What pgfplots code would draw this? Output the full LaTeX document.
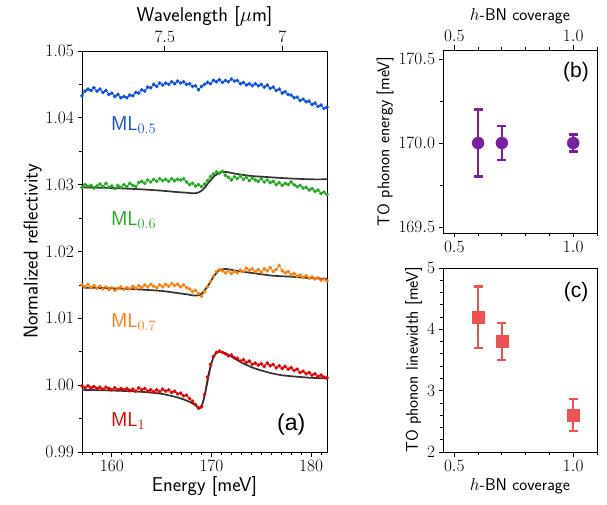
\documentclass[border=0pt]{standalone}
\usepackage{fontspec}
\usepackage{pgfplots}
\pgfplotsset{compat=1.18}
\usepackage{pgfplotstable}
\newfontfamily\helv{Liberation Sans}
\definecolor{cblue}{HTML}{0F4FE6}
\definecolor{cgreen}{HTML}{22AA22}
\definecolor{corange}{HTML}{FF7F0E}
\definecolor{cred}{HTML}{E60000}
\definecolor{cfit}{HTML}{333333}
\definecolor{cpurple}{HTML}{7B1FA2}
\definecolor{csalmon}{HTML}{F05252}

\pgfplotstableread{
E blue green orange red
157.0 1.0433 1.0296 1.0150 0.9999
157.3 1.0440 1.0300 1.0147 0.9996
157.6 1.0443 1.0297 1.0151 0.9999
157.9 1.0441 1.0299 1.0146 0.9996
158.2 1.0445 1.0295 1.0149 0.9998
158.5 1.0440 1.0298 1.0145 0.9995
158.8 1.0443 1.0301 1.0148 0.9997
159.1 1.0438 1.0297 1.0144 0.9994
159.4 1.0441 1.0302 1.0147 0.9997
159.7 1.0435 1.0296 1.0143 0.9995
160.0 1.0437 1.0298 1.0146 0.9993
160.3 1.0432 1.0294 1.0142 0.9996
160.6 1.0435 1.0299 1.0145 0.9993
160.9 1.0430 1.0296 1.0147 0.9995
161.2 1.0432 1.0300 1.0143 0.9993
161.5 1.0430 1.0297 1.0146 0.9995
161.8 1.0434 1.0302 1.0144 0.9992
162.1 1.0433 1.0299 1.0148 0.9994
162.4 1.0438 1.0297 1.0145 0.9991
162.7 1.0437 1.0303 1.0149 0.9996
163.0 1.0442 1.0305 1.0146 0.9993
163.3 1.0440 1.0302 1.0150 0.9995
163.6 1.0446 1.0307 1.0147 0.9991
163.9 1.0445 1.0304 1.0151 0.9993
164.2 1.0450 1.0308 1.0148 0.9990
164.5 1.0447 1.0305 1.0146 0.9993
164.8 1.0452 1.0309 1.0150 0.9990
165.1 1.0449 1.0306 1.0147 0.9994
165.4 1.0452 1.0308 1.0151 0.9991
165.7 1.0450 1.0305 1.0148 0.9993
166.0 1.0454 1.0309 1.0152 0.9989
166.3 1.0451 1.0306 1.0149 0.9991
166.6 1.0455 1.0308 1.0151 0.9987
166.9 1.0452 1.0307 1.0147 0.9988
167.2 1.0454 1.0309 1.0150 0.9984
167.5 1.0450 1.0304 1.0146 0.9985
167.8 1.0451 1.0300 1.0144 0.9980
168.1 1.0447 1.0302 1.0140 0.9976
168.4 1.0448 1.0298 1.0142 0.9971
168.7 1.0442 1.0300 1.0137 0.9966
169.0 1.0447 1.0297 1.0133 0.9968
169.3 1.0450 1.0301 1.0140 0.9986
169.6 1.0453 1.0306 1.0147 1.0012
169.9 1.0451 1.0312 1.0155 1.0031
170.2 1.0456 1.0316 1.0163 1.0043
170.5 1.0454 1.0319 1.0170 1.0049
170.8 1.0457 1.0317 1.0173 1.0051
171.1 1.0453 1.0320 1.0171 1.0049
171.4 1.0456 1.0314 1.0168 1.0047
171.7 1.0454 1.0311 1.0171 1.0044
172.0 1.0458 1.0307 1.0167 1.0045
172.3 1.0455 1.0312 1.0170 1.0041
172.6 1.0456 1.0309 1.0168 1.0040
172.9 1.0451 1.0313 1.0172 1.0036
173.2 1.0453 1.0308 1.0170 1.0038
173.5 1.0449 1.0311 1.0175 1.0034
173.8 1.0451 1.0306 1.0172 1.0036
174.1 1.0448 1.0310 1.0174 1.0031
174.4 1.0451 1.0307 1.0170 1.0033
174.7 1.0448 1.0305 1.0173 1.0030
175.0 1.0450 1.0309 1.0169 1.0032
175.3 1.0446 1.0304 1.0174 1.0028
175.6 1.0449 1.0307 1.0171 1.0033
175.9 1.0444 1.0303 1.0176 1.0029
176.2 1.0446 1.0305 1.0170 1.0031
176.5 1.0441 1.0300 1.0173 1.0026
176.8 1.0443 1.0303 1.0179 1.0029
177.1 1.0437 1.0299 1.0171 1.0025
177.4 1.0439 1.0302 1.0168 1.0028
177.7 1.0435 1.0300 1.0170 1.0024
178.0 1.0434 1.0304 1.0165 1.0026
178.3 1.0430 1.0300 1.0167 1.0022
178.6 1.0431 1.0297 1.0163 1.0024
178.9 1.0426 1.0299 1.0165 1.0019
179.2 1.0428 1.0295 1.0161 1.0021
179.5 1.0424 1.0296 1.0164 1.0017
179.8 1.0425 1.0292 1.0160 1.0019
180.1 1.0420 1.0294 1.0162 1.0015
180.4 1.0422 1.0290 1.0159 1.0017
180.7 1.0417 1.0292 1.0161 1.0013
181.0 1.0419 1.0287 1.0157 1.0015
181.3 1.0414 1.0289 1.0159 1.0012
181.6 1.0416 1.0285 1.0156 1.0011
}\spectra

\pgfplotstableread{
E green orange red
157.0 1.0296 1.0146 0.9993
160.0 1.0295 1.0145 0.9992
163.0 1.0293 1.0143 0.9990
165.0 1.0291 1.0141 0.9987
166.5 1.0289 1.0138 0.9982
167.5 1.0288 1.0136 0.9977
168.3 1.0287 1.0134 0.9971
168.8 1.0289 1.0135 0.9965
169.1 1.0292 1.0138 0.9972
169.4 1.0297 1.0144 0.9990
169.7 1.0303 1.0150 1.0013
170.0 1.0308 1.0157 1.0033
170.3 1.0313 1.0164 1.0045
170.7 1.0317 1.0171 1.0050
171.0 1.0319 1.0173 1.0050
171.5 1.0319 1.0174 1.0047
172.2 1.0317 1.0172 1.0041
173.0 1.0315 1.0170 1.0034
174.0 1.0313 1.0168 1.0027
175.0 1.0312 1.0166 1.0022
176.0 1.0311 1.0164 1.0018
177.0 1.0310 1.0163 1.0015
178.3 1.0309 1.0162 1.0013
180.0 1.0308 1.0160 1.0011
181.6 1.0308 1.0159 1.0010
}\fits

\begin{document}
\begin{tikzpicture}
\path[use as bounding box] (0,0) rectangle (607pt,504pt);
\pgfplotsset{
  every axis/.append style={
    scale only axis, anchor=south west,
    tick align=outside,
    axis line style={line width=0.9pt},
    major tick length=4.5pt, minor tick length=2.8pt,
    every tick/.style={black, line width=0.8pt},
    tick label style={font=\fontsize{17.5}{20}\selectfont},
    scaled ticks=false,
  },
}
% ---------------- panel (a)
\begin{axis}[at={(82pt,52pt)}, width=245pt, height=401pt,
  xmin=157, xmax=181.6, ymin=0.99, ymax=1.05,
  xtick={160,170,180}, minor xtick={157,158,...,181},
  ytick={0.99,1.00,1.01,1.02,1.03,1.04,1.05},
  yticklabels={0.99,1.00,1.01,1.02,1.03,1.04,1.05},
  minor ytick={0.995,1.005,1.015,1.025,1.035,1.045},
  xtick pos=lower, ytick pos=left,
  xlabel={\sffamily Energy [meV]},
  ylabel={\sffamily Normalized reflectivity},
  label style={font=\fontsize{20}{24}\selectfont},
  xlabel style={yshift=2pt},
  ylabel style={yshift=-3pt},
  clip=true]
\addplot[cblue, mark=*, mark size=1.4pt, line width=0.8pt] table[x=E, y=blue] {\spectra};
\addplot[cgreen, mark=*, mark size=1.4pt, line width=0.8pt] table[x=E, y=green] {\spectra};
\addplot[corange, mark=*, mark size=1.4pt, line width=0.8pt] table[x=E, y=orange] {\spectra};
\addplot[cred, mark=*, mark size=1.4pt, line width=0.8pt] table[x=E, y=red] {\spectra};
\addplot[cfit, line width=1.7pt, smooth, tension=0.4] table[x=E, y=green] {\fits};
\addplot[cfit, line width=1.7pt, smooth, tension=0.4] table[x=E, y=orange] {\fits};
\addplot[cfit, line width=1.7pt, smooth, tension=0.4] table[x=E, y=red] {\fits};
\node[anchor=west, text=cblue, font=\fontsize{20}{24}\selectfont, inner sep=0pt] at (axis cs:159.9,1.0389) {\sffamily ML$_{0.5}$};
\node[anchor=west, text=cgreen, font=\fontsize{20}{24}\selectfont, inner sep=0pt] at (axis cs:159.9,1.0247) {\sffamily ML$_{0.6}$};
\node[anchor=west, text=corange, font=\fontsize{20}{24}\selectfont, inner sep=0pt] at (axis cs:159.9,1.0094) {\sffamily ML$_{0.7}$};
\node[anchor=west, text=cred, font=\fontsize{20}{24}\selectfont, inner sep=0pt] at (axis cs:159.9,0.9946) {\sffamily ML$_{1}$};
\node[font=\fontsize{23}{26}\selectfont\helv] at (axis cs:178.0,0.9941) {(a)};
\end{axis}
% top wavelength axis
\begin{axis}[at={(82pt,52pt)}, width=245pt, height=401pt,
  xmin=157, xmax=181.6, ymin=0, ymax=1,
  axis x line*=top, axis y line=none,
  xtick={165.312,177.12}, xticklabels={$7.5$,$7$},
  xlabel={\sffamily Wavelength [$\mu$m]},
  label style={font=\fontsize{20}{24}\selectfont},
  xlabel style={yshift=-2pt}]
\end{axis}
% ---------------- panel (b)
\begin{axis}[at={(443pt,271pt)}, width=154pt, height=183pt,
  xmin=0.4525, xmax=1.1, ymin=169.464, ymax=170.554,
  xtick={0.5,1.0}, xticklabels={$0.5$,$1.0$},
  minor xtick={0.6,0.7,0.8,0.9,1.1},
  ytick={169.5,170,170.5}, yticklabels={$169.5$,$170.0$,$170.5$},
  minor ytick={169.75,170.25},
  xtick pos=lower, ytick pos=left,
  ylabel={\sffamily TO phonon energy [meV]},
  label style={font=\fontsize{17}{20}\selectfont},
  ylabel style={yshift=-2pt}]
\addplot[cpurple, only marks, mark=*, mark size=6pt,
  error bars/.cd, y dir=both, y explicit,
  error bar style={line width=2.4pt, cpurple},
  error mark options={rotate=90, mark size=4.5pt, line width=2.4pt, cpurple}]
  coordinates {(0.6,170.0) +- (0,0.2) (0.7,170.0) +- (0,0.1) (1.0,170.0) +- (0,0.05)};
\node[font=\fontsize{21}{24}\selectfont\helv] at (axis cs:1.012,170.42) {(b)};
\end{axis}
\begin{axis}[at={(443pt,271pt)}, width=154pt, height=183pt,
  xmin=0.4525, xmax=1.1, ymin=0, ymax=1,
  axis x line*=top, axis y line=none,
  xtick={0.5,1.0}, xticklabels={$0.5$,$1.0$},
  minor xtick={0.6,0.7,0.8,0.9,1.1},
  xlabel={\sffamily $h$-BN coverage},
  label style={font=\fontsize{17}{20}\selectfont}]
\end{axis}
% ---------------- panel (c)
\begin{axis}[at={(443pt,52pt)}, width=154pt, height=184pt,
  xmin=0.4525, xmax=1.1, ymin=2, ymax=5,
  xtick={0.5,1.0}, xticklabels={$0.5$,$1.0$},
  minor xtick={0.6,0.7,0.8,0.9,1.1},
  ytick={2,3,4,5}, minor y tick num=4,
  xtick pos=lower, ytick pos=left,
  xlabel={\sffamily $h$-BN coverage},
  ylabel={\sffamily TO phonon linewidth [meV]},
  label style={font=\fontsize{17}{20}\selectfont},
  ylabel style={yshift=-2pt}]
\addplot[csalmon, only marks, mark=square*, mark size=6pt,
  error bars/.cd, y dir=both, y explicit,
  error bar style={line width=2.4pt, csalmon},
  error mark options={rotate=90, mark size=4.5pt, line width=2.4pt, csalmon}]
  coordinates {(0.6,4.2) +- (0,0.5) (0.7,3.8) +- (0,0.3) (1.0,2.6) +- (0,0.26)};
\node[font=\fontsize{21}{24}\selectfont\helv] at (axis cs:1.012,4.6) {(c)};
\end{axis}
\end{tikzpicture}
\end{document}
